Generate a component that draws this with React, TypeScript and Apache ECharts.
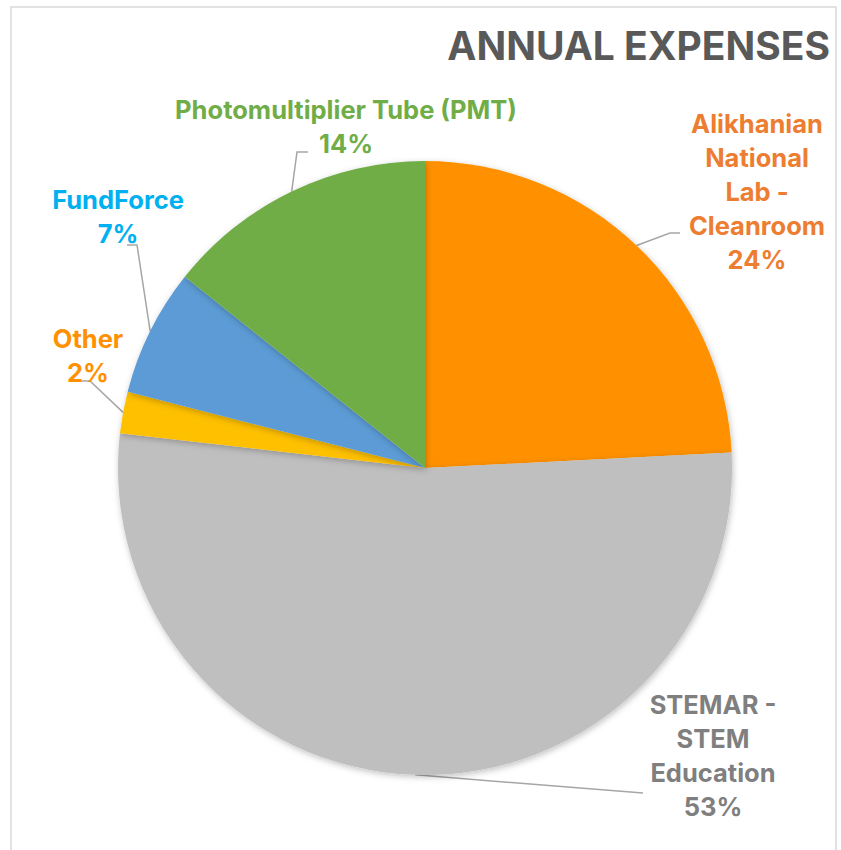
import React, { useEffect, useRef } from "react";
import * as echarts from "echarts";

const categories = [
  "Alikhanian National Lab - Cleanroom",
  "STEMAR - STEM Education",
  "Other",
  "FundForce",
  "Photomultiplier Tube (PMT)",
];
const labelLines = [
  "Alikhanian\nNational\nLab -\nCleanroom",
  "STEMAR -\nSTEM\nEducation",
  "Other",
  "FundForce",
  "Photomultiplier Tube (PMT)",
];
const values = [24.2, 52.6, 2.2, 6.7, 14.3];
const sliceColors = ["#FF9100", "#BFBFBF", "#FFC000", "#5B9BD5", "#70AD47"];
const labelColors = ["#ED7D31", "#7F7F7F", "#FF9100", "#00B0F0", "#70AD47"];
// label block centres (px)
const labelCenters = [
  [757, 191],
  [713, 755],
  [88, 355],
  [118, 216],
  [346, 126],
];
// leader line elbow and end points (px)
const leaderElbows = [
  [670, 233],
  [530, 784],
  [90, 381],
  [137, 245],
  [297, 152],
];
const leaderEnds = [
  [680, 233],
  [643, 793],
  [78, 381],
  [127, 245],
  [308, 152],
];

const FONT = "Inter, Roboto, 'Noto Sans', sans-serif";

export default function App() {
  const ref = useRef<HTMLDivElement>(null);
  useEffect(() => {
    if (!ref.current) return;
    const chart = echarts.init(ref.current, undefined, { renderer: "svg" });
    chart.setOption({
      animation: false,
      backgroundColor: "#FFFFFF",
      title: {
        text: "ANNUAL EXPENSES",
        right: 11,
        top: 26,
        padding: 0,
        textStyle: {
          color: "#595959",
          fontSize: 39,
          fontWeight: "bold",
          fontFamily: FONT,
          lineHeight: 38,
        },
      },
      graphic: [
        {
          type: "rect",
          shape: { x: 11, y: 7, width: 825, height: 870 },
          style: { fill: "none", stroke: "#D9D9D9", lineWidth: 1.5 },
          silent: true,
          z: -1,
        },
      ],
      series: [
        {
          type: "pie",
          center: [425, 468],
          radius: 307,
          startAngle: 90,
          clockwise: true,
          avoidLabelOverlap: false,
          itemStyle: {
            borderWidth: 0,
            shadowBlur: 6,
            shadowColor: "rgba(0,0,0,0.25)",
            shadowOffsetX: 1,
            shadowOffsetY: 2,
          },
          label: {
            show: true,
            position: "outside",
            fontFamily: FONT,
            fontWeight: "bold",
            fontSize: 25.5,
            lineHeight: 34,
            align: "center",
            formatter: (p: any) =>
              `${labelLines[p.dataIndex]}\n${Math.round(p.percent)}%`,
          },
          labelLine: {
            show: true,
            length: 10,
            length2: 10,
            lineStyle: { color: "#A6A6A6", width: 1.5 },
          },
          labelLayout: (params: any) => {
            const i = params.dataIndex;
            const c = labelCenters[i];
            const pts = params.labelLinePoints;
            const start = pts && pts[0] ? pts[0] : leaderElbows[i];
            return {
              x: c[0],
              y: c[1],
              align: "center",
              verticalAlign: "middle",
              labelLinePoints: [start, leaderElbows[i], leaderEnds[i]],
            };
          },
          emphasis: { disabled: true },
          data: categories.map((name, i) => ({
            name,
            value: values[i],
            itemStyle: { color: sliceColors[i] },
            label: { color: labelColors[i] },
          })),
        },
      ],
    });
    return () => chart.dispose();
  }, []);
  return (
    <div
      ref={ref}
      style={{ position: "fixed", left: 0, top: 0, width: 841, height: 850 }}
    />
  );
}
